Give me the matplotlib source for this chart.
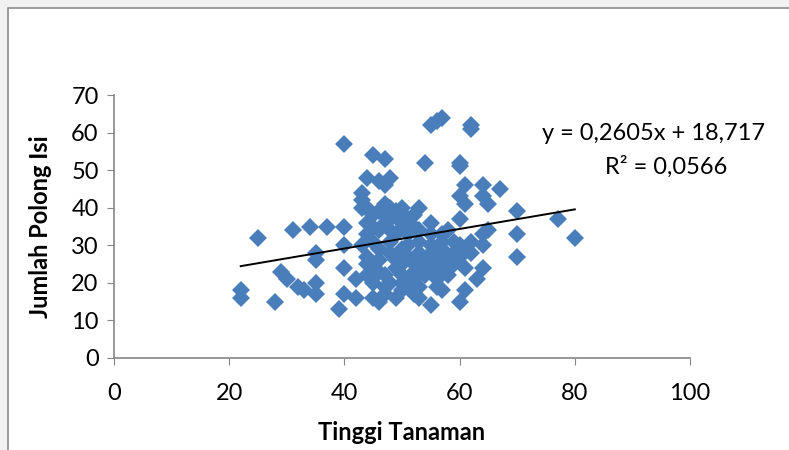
import matplotlib.pyplot as plt
from matplotlib.patches import Rectangle

# ================================
# Data
# ================================

tinggi = [
    22, 22, 25, 28, 29, 30, 31, 32, 33, 34, 35, 35, 35, 35, 37, 40, 40, 40, 40, 40, 39, 42, 42,
    45, 47, 44, 46, 48, 47, 43, 43, 43, 44, 45, 46, 47, 48, 49, 50, 51, 52, 53, 54, 55, 56, 57,
    62, 62, 60, 60, 61, 64, 67, 60, 64, 65, 61, 70, 77, 60, 70, 80, 70, 65, 64, 64, 64, 63, 61,
    60, 55, 47, 45, 46, 49,
    44, 45, 46, 44, 45, 46, 47, 48, 48, 48, 49, 49, 50, 50, 50, 51, 51, 51, 52, 52, 52, 53, 53,
    53, 53, 54, 54, 54, 55, 55, 55, 56, 56, 56, 57, 57, 57, 58, 58, 59, 59, 59, 60, 60, 61, 61,
    62, 62, 47, 49, 50, 46, 44, 45, 43, 44, 44, 45, 47, 48, 51, 52, 53, 56, 57, 58, 46, 50, 57,
    58, 55, 52, 50, 49, 48, 47,
]
polong = [
    18, 16, 32, 15, 23, 21, 34, 19, 18, 35, 28, 26, 20, 17, 35, 57, 35, 30, 24, 17, 13, 21, 16,
    54, 53, 48, 47, 48, 46, 44, 42, 40, 40, 35, 39, 41, 37, 38, 36, 37, 38, 40, 52, 62, 63, 64,
    62, 61, 52, 51, 46, 46, 45, 43, 43, 41, 41, 39, 37, 37, 33, 32, 27, 34, 33, 30, 24, 21, 18,
    15, 14, 17, 16, 15, 16,
    33, 31, 29, 27, 25, 23, 22, 34, 31, 28, 26, 24, 22, 20, 18, 33, 30, 27, 25, 23, 21, 34, 31,
    28, 19, 26, 24, 22, 33, 30, 28, 25, 23, 21, 31, 29, 27, 24, 22, 28, 31, 25, 30, 27, 29, 24,
    28, 31, 36, 33, 29, 34, 36, 38, 30, 25, 22, 20, 19, 20, 19, 17, 16, 19, 18, 26, 26, 25, 33,
    34, 36, 35, 40, 39, 40, 38,
]

# trendline as printed on the chart
SLOPE = 0.2605
INTERCEPT = 18.717
EQ_TEXT = "y = 0,2605x + 18,717"
R2_TEXT = "R² = 0,0566"

X_TICKS = [0, 20, 40, 60, 80, 100]
Y_TICKS = [0, 10, 20, 30, 40, 50, 60, 70]

BLUE = "#4a7ebb"
GRAY = "#868686"
FS = 17

plt.rcParams["font.family"] = ["Lato", "DejaVu Sans"]

fig = plt.figure(figsize=(7.89, 4.5), dpi=100)
fig.patch.set_facecolor("#f1f1f1")

# chart area frame (behind the axes)
fig.patches.append(
    Rectangle(
        (8 / 789, -0.05), 1.1, (450 - 8) / 450 + 0.05,
        transform=fig.transFigure, facecolor="white", edgecolor="#8c8c8c",
        linewidth=1.2, zorder=-10,
    )
)

ax = fig.add_axes([114 / 789, (450 - 358) / 450, 576 / 789, 263 / 450])
ax.set_zorder(1)
ax.set_facecolor("none")

ax.plot(tinggi, polong, linestyle="none", marker="D", markersize=9,
        color=BLUE, markeredgewidth=0, zorder=2, clip_on=False)

x0, x1 = min(tinggi), max(tinggi)
ax.plot([x0, x1], [SLOPE * x0 + INTERCEPT, SLOPE * x1 + INTERCEPT],
        color="black", linewidth=1.4, zorder=3)

ax.text(93.7, 59.8, EQ_TEXT, ha="center", va="center", fontsize=FS)
ax.text(95.8, 51.0, R2_TEXT, ha="center", va="center", fontsize=FS)

ax.set_xlim(0, 100)
ax.set_ylim(0, 70)
ax.set_xticks(X_TICKS)
ax.set_yticks(Y_TICKS)
ax.tick_params(axis="both", direction="out", length=5, color=GRAY,
               labelsize=FS, pad=6)
ax.tick_params(axis="x", pad=13)

for side in ("top", "right"):
    ax.spines[side].set_visible(False)
for side in ("left", "bottom"):
    ax.spines[side].set_color(GRAY)
    ax.spines[side].set_linewidth(1.2)

ax.set_xlabel("Tinggi Tanaman", fontsize=FS, fontweight="bold", labelpad=12)
ax.set_ylabel("Jumlah Polong Isi", fontsize=FS, fontweight="bold", labelpad=14)

fig.savefig("out.png", dpi=100, facecolor=fig.get_facecolor())
